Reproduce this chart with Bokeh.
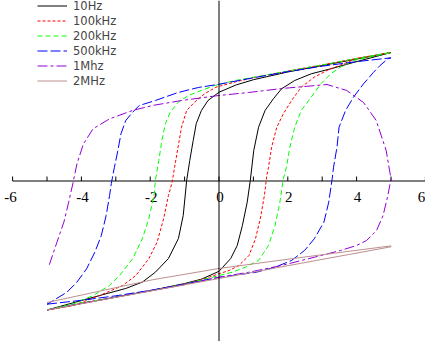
from bokeh.plotting import figure
from bokeh.models import Range1d, Span, Legend, LegendItem
from bokeh.embed import file_html
from bokeh.resources import INLINE
from bokeh.core.properties import value

# ---------------- data (H field, magnetisation) ----------------
h_10hz = [-5, -4, -3, -2, -1, -0.5, 0, 0.11, 0.34, 0.53, 0.68, 0.82, 0.91, 1.01, 1.15, 1.34, 1.58, 1.82, 2.2, 2.68, 3.25, 3.91, 5,
          4, 3, 2, 1, 0.5, 0, -0.32, -0.51, -0.66, -0.75, -0.85, -0.94, -1.04, -1.18, -1.47, -1.85, -2.23, -2.71, -3.25, -3.91, -5]
m_10hz = [-1.0, -0.95, -0.9, -0.85, -0.795, -0.76, -0.70, -0.668, -0.601, -0.5, -0.345, -0.164, 0.004, 0.236, 0.417, 0.547, 0.637, 0.715, 0.779, 0.831, 0.87, 0.919, 0.996,
          0.945, 0.895, 0.845, 0.785, 0.745, 0.688, 0.624, 0.547, 0.446, 0.314, 0.159, 0.004, -0.267, -0.446, -0.601, -0.707, -0.784, -0.833, -0.872, -0.92, -1.0]

h_100k = [-5, -4, -3, -2, -1, -0.5, 0, 0.29, 0.58, 0.87, 1.06, 1.2, 1.32, 1.39, 1.44, 1.53, 1.68, 1.87, 2.11, 2.39, 2.77, 3.14, 3.63, 4.0, 5,
          4, 3, 2, 1, 0.5, -0.09, -0.42, -0.71, -0.94, -1.09, -1.19, -1.29, -1.37, -1.47, -1.61, -1.8, -2.04, -2.42, -2.8, -3.47, -4.23, -5]
m_100k = [-1.0, -0.95, -0.9, -0.852, -0.8, -0.765, -0.719, -0.694, -0.655, -0.578, -0.448, -0.293, -0.112, 0.043, 0.107, 0.262, 0.417, 0.521, 0.624, 0.727, 0.805, 0.857, 0.909, 0.95, 0.996,
          0.95, 0.9, 0.852, 0.8, 0.77, 0.727, 0.676, 0.611, 0.547, 0.417, 0.262, 0.107, -0.019, -0.112, -0.293, -0.474, -0.603, -0.733, -0.81, -0.888, -0.965, -1.0]

h_200k = [-5, -4.23, -3, -2, -1, 0, 0.39, 0.77, 1.15, 1.44, 1.63, 1.77, 1.87, 1.96, 2.06, 2.2, 2.39, 2.68, 2.96, 3.25, 3.53, 3.91, 5,
          4, 3, 2, 1, 0.5, -0.13, -0.51, -0.89, -1.18, -1.42, -1.56, -1.66, -1.75, -1.85, -1.89, -2.04, -2.23, -2.51, -2.89, -3.18, -3.66, -4.23, -5]
m_200k = [-1.0, -0.955, -0.9, -0.852, -0.8, -0.733, -0.707, -0.668, -0.616, -0.5, -0.345, -0.164, 0.017, 0.107, 0.262, 0.417, 0.547, 0.65, 0.753, 0.831, 0.882, 0.934, 0.996,
          0.95, 0.9, 0.852, 0.804, 0.78, 0.74, 0.702, 0.663, 0.611, 0.533, 0.443, 0.314, 0.159, 0.004, -0.112, -0.293, -0.448, -0.603, -0.733, -0.81, -0.888, -0.952, -1.0]

h_500k = [-5, -4, -3, -2, -1, 0, 0.39, 1.09, 1.63, 2.11, 2.49, 2.77, 3.05, 3.19, 3.29, 3.33, 3.43, 3.49, 3.68, 3.91, 4.2, 4.49, 4.68, 4.91, 5,
          4, 3, 2, 1, 0, -0.6, -1.2, -1.85, -2.32, -2.51, -2.71, -2.85, -2.94, -3.04, -3.13, -3.18, -3.28, -3.42, -3.61, -3.85, -4.13, -4.42, -4.9, -5]
m_500k = [-0.955, -0.925, -0.89, -0.848, -0.8, -0.746, -0.733, -0.707, -0.668, -0.616, -0.538, -0.448, -0.319, -0.164, 0.017, 0.107, 0.262, 0.417, 0.547, 0.65, 0.753, 0.842, 0.895, 0.947, 0.955,
          0.925, 0.89, 0.848, 0.8, 0.75, 0.725, 0.685, 0.624, 0.585, 0.533, 0.469, 0.366, 0.236, 0.107, -0.019, -0.112, -0.267, -0.422, -0.552, -0.681, -0.784, -0.862, -0.94, -0.955]

h_1m = [-5, -4, -3, -2, -1, 0, 0.87, 1.82, 2.77, 3.53, 4.0, 4.29, 4.58, 4.77, 4.91, 5.0,
        4.86, 4.57, 4.2, 3.71, 3.14, 1.83, 0.86, 0, -1.09, -1.94, -2.51, -3.18, -3.66, -3.94, -4.13, -4.25, -4.37, -4.51, -4.71, -4.94]
m_1m = [-1.0, -0.948, -0.9, -0.852, -0.804, -0.746, -0.707, -0.655, -0.591, -0.539, -0.5, -0.461, -0.384, -0.267, -0.112, 0.017,
        0.236, 0.469, 0.609, 0.702, 0.748, 0.717, 0.686, 0.663, 0.624, 0.585, 0.547, 0.482, 0.405, 0.288, 0.133, -0.022, -0.164, -0.319, -0.474, -0.655]

h_2m = [-5, -2.5, 0, 2.5, 5, 5, 2.5, 0, -1.94, -5]
m_2m = [-1.0, -0.878, -0.756, -0.632, -0.51, -0.503, -0.589, -0.678, -0.766, -0.942]

series_labels = ["10Hz", "100kHz", "200kHz", "500kHz", "1Mhz", "2MHz"]

tick_values = [-6, -5, -4, -3, -2, -1, 0, 1, 2, 3, 4, 5, 6]
label_values = [-6, -4, -2, 0, 2, 4, 6]
label_texts = ["-6", "-4", "-2", "0", "2", "4", "6"]
label_nudge = [-2, 1, 1, 1, 1, 1, -4]   # small pixel nudges of the tick labels

# ---------------- figure ----------------
W, H = 425, 341
X0_PX, X_SCALE = 218.5, 34.4
Y0_PX, Y_SCALE = 180.5, 129.0

p = figure(width=W, height=H,
           x_range=Range1d(-X0_PX / X_SCALE, (W - X0_PX) / X_SCALE),
           y_range=Range1d(-(H - Y0_PX) / Y_SCALE, Y0_PX / Y_SCALE),
           x_axis_type=None, y_axis_type=None,
           toolbar_location=None, output_backend="svg", min_border=0)
p.outline_line_color = None
p.background_fill_color = "white"
p.border_fill_color = "white"

# axes through the origin
p.add_layout(Span(location=0, dimension="height", line_color="black", line_width=1))
p.segment(x0=[tick_values[0]], y0=[0], x1=[tick_values[-1]], y1=[0], line_color="black", line_width=1)
TICK_LEN = 4.5 / Y_SCALE
p.segment(x0=tick_values, y0=[0] * len(tick_values), x1=tick_values,
          y1=[TICK_LEN] * len(tick_values), line_color="black", line_width=1)
p.text(x=label_values, y=[0] * len(label_values), text=label_texts,
       text_font=value("'Liberation Serif', serif"), text_font_size="15px",
       text_align="center", text_baseline="alphabetic",
       x_offset=label_nudge, y_offset=16, text_color="black")

styles = [
    ("black", None),
    ("#ff0000", "3 2"),
    ("#00ff00", "5 3"),
    ("#0000ff", "10 3"),
    ("#9400d3", "10 3 3 3"),
    ("#bc8f8f", None),
]
datas = [(h_10hz, m_10hz), (h_100k, m_100k), (h_200k, m_200k),
         (h_500k, m_500k), (h_1m, m_1m), (h_2m, m_2m)]

items = []
for (hx, my), (col, dash), lab in zip(datas, styles, series_labels):
    kw = dict(line_color=col, line_width=1)
    if dash:
        kw["line_dash"] = dash
    r = p.line(hx, my, **kw)
    items.append(LegendItem(label=lab, renderers=[r]))

legend = Legend(items=items, location=(37, 253),
                glyph_width=30, glyph_height=15, label_height=15,
                spacing=0, padding=0, margin=0, label_standoff=6,
                label_text_font="'DejaVu Sans', sans-serif", label_text_font_size="11.5px",
                border_line_alpha=0, background_fill_alpha=0)
p.add_layout(legend)

open("out.html", "w").write(file_html(p, INLINE))
